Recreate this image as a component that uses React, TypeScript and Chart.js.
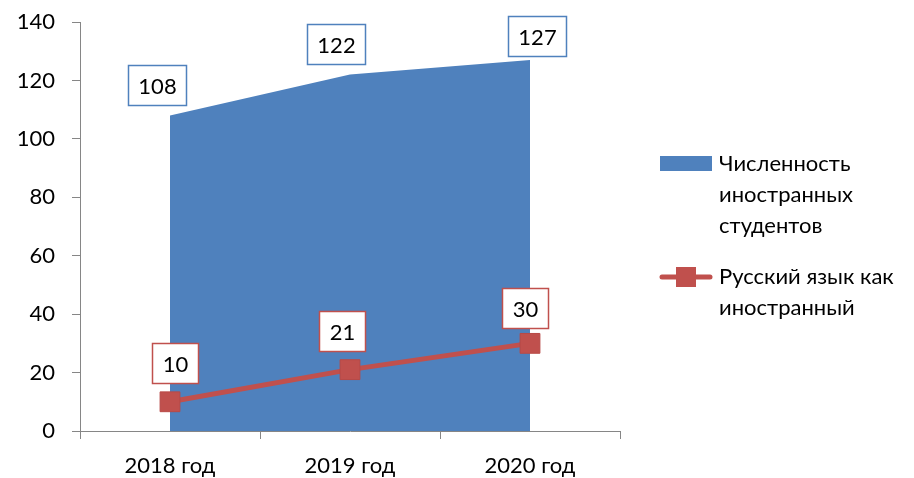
import { useEffect, useRef } from "react";
import { Chart, registerables } from "chart.js";

Chart.register(...registerables);

const categories = ["2018 год", "2019 год", "2020 год"];
const studentsLegend = ["Численность", "иностранных", "студентов"];
const russianLegend = ["Русский язык как", "иностранный"];
const studentsValues = [108, 122, 127];
const russianValues = [10, 21, 30];
const yMin = 0;
const yMax = 140;
const yStep = 20;

const FONT = "Lato, 'Noto Sans', 'DejaVu Sans', sans-serif";
const FONT_SIZE = 22;
const BLUE = "#4F81BD";
const RED = "#C0504D";
const AXIS = "#868686";

// label box offsets from each point (style only)
const LABEL_OFFSETS: number[][][] = [
  [[-13, -30], [-14, -31], [7, -24]],
  [[5, -39], [-8, -39], [-5, -35]],
];
const LABEL_BORDERS = [BLUE, RED];

const labelPlugin = {
  id: "boxLabels",
  afterDatasetsDraw(chart: any) {
    const ctx = chart.ctx as CanvasRenderingContext2D;
    ctx.save();
    ctx.font = `${FONT_SIZE}px ${FONT}`;
    ctx.textAlign = "center";
    ctx.textBaseline = "middle";
    chart.data.datasets.forEach((ds: any, di: number) => {
      const meta = chart.getDatasetMeta(di);
      const dsi = ds.labelIndex;
      meta.data.forEach((pt: any, i: number) => {
        const text = String(ds.data[i]);
        const w = Math.round(ctx.measureText(text).width + 20);
        const h = 40;
        const off = LABEL_OFFSETS[dsi][i];
        const cx = pt.x + off[0];
        const cy = pt.y + off[1];
        const x0 = Math.round(cx - w / 2) + 0.5;
        const y0 = Math.round(cy - h / 2) + 0.5;
        ctx.fillStyle = "#ffffff";
        ctx.fillRect(x0, y0, w, h);
        ctx.strokeStyle = LABEL_BORDERS[dsi];
        ctx.lineWidth = 1.5;
        ctx.strokeRect(x0, y0, w, h);
        ctx.fillStyle = "#000000";
        ctx.fillText(text, x0 + w / 2, y0 + h / 2 + 1);
      });
    });
    ctx.restore();
  },
};

const legendPlugin = {
  id: "sideLegend",
  afterDraw(chart: any) {
    const ctx = chart.ctx as CanvasRenderingContext2D;
    const area = chart.chartArea;
    const x0 = area.right + 40;
    ctx.save();
    // entry 1: area swatch
    ctx.fillStyle = BLUE;
    ctx.fillRect(x0, 156, 52, 15);
    ctx.font = `${FONT_SIZE}px ${FONT}`;
    ctx.fillStyle = "#000";
    ctx.textAlign = "left";
    ctx.textBaseline = "alphabetic";
    studentsLegend.forEach((t, i) => ctx.fillText(t, x0 + 59, 171 + i * 31));
    // entry 2: line with square marker
    const ly = 277;
    ctx.strokeStyle = RED;
    ctx.lineWidth = 5;
    ctx.lineCap = "round";
    ctx.beginPath();
    ctx.moveTo(x0 + 2, ly);
    ctx.lineTo(x0 + 50, ly);
    ctx.stroke();
    ctx.fillStyle = RED;
    ctx.fillRect(x0 + 26 - 10, ly - 10, 20, 20);
    ctx.fillStyle = "#000";
    russianLegend.forEach((t, i) => ctx.fillText(t, x0 + 59, 284 + i * 31));
    ctx.restore();
  },
};

export default function App() {
  const ref = useRef<HTMLCanvasElement | null>(null);
  useEffect(() => {
    if (!ref.current) return;
    const chart = new Chart(ref.current, {
      type: "line",
      data: {
        labels: categories,
        datasets: [
          {
            label: studentsLegend.join(" "),
            data: studentsValues,
            fill: "origin",
            backgroundColor: BLUE,
            borderWidth: 0,
            borderColor: BLUE,
            pointRadius: 0,
            tension: 0,
            order: 2,
            labelIndex: 0,
          } as any,
          {
            label: russianLegend.join(" "),
            data: russianValues,
            fill: false,
            borderColor: RED,
            backgroundColor: RED,
            borderWidth: 5,
            pointStyle: "rect",
            pointRadius: 14,
            pointBorderWidth: 1,
            pointBorderColor: "#B84946",
            pointBackgroundColor: RED,
            tension: 0,
            order: 1,
            labelIndex: 1,
          } as any,
        ],
      },
      options: {
        animation: false,
        responsive: true,
        maintainAspectRatio: false,
        layout: { padding: { top: 22, right: 294, left: 0, bottom: 0 } },
        plugins: {
          legend: { display: false },
          tooltip: { enabled: false },
        },
        scales: {
          x: {
            type: "category",
            offset: true,
            grid: {
              offset: true,
              drawOnChartArea: false,
              drawTicks: true,
              tickLength: 8,
              color: AXIS,
            },
            border: { color: AXIS, width: 1 },
            ticks: {
              color: "#000",
              font: { family: FONT, size: FONT_SIZE },
              padding: 14,
              maxRotation: 0,
            },
            afterFit: (s: any) => {
              s.height = 47;
              s.paddingLeft = 0;
              s.paddingRight = 0;
            },
          },
          y: {
            min: yMin,
            max: yMax,
            ticks: {
              stepSize: yStep,
              color: "#000",
              font: { family: FONT, size: FONT_SIZE },
              padding: 17,
            },
            grid: {
              drawOnChartArea: false,
              drawTicks: true,
              tickLength: 8,
              color: AXIS,
            },
            border: { color: AXIS, width: 1 },
            afterFit: (s: any) => {
              s.width = 80;
              s.paddingTop = 0;
              s.paddingBottom = 0;
            },
          },
        },
      },
      plugins: [labelPlugin, legendPlugin],
    });
    return () => chart.destroy();
  }, []);
  return (
    <div style={{ position: "absolute", left: 0, top: 0, width: 914, height: 478 }}>
      <canvas ref={ref} />
    </div>
  );
}
